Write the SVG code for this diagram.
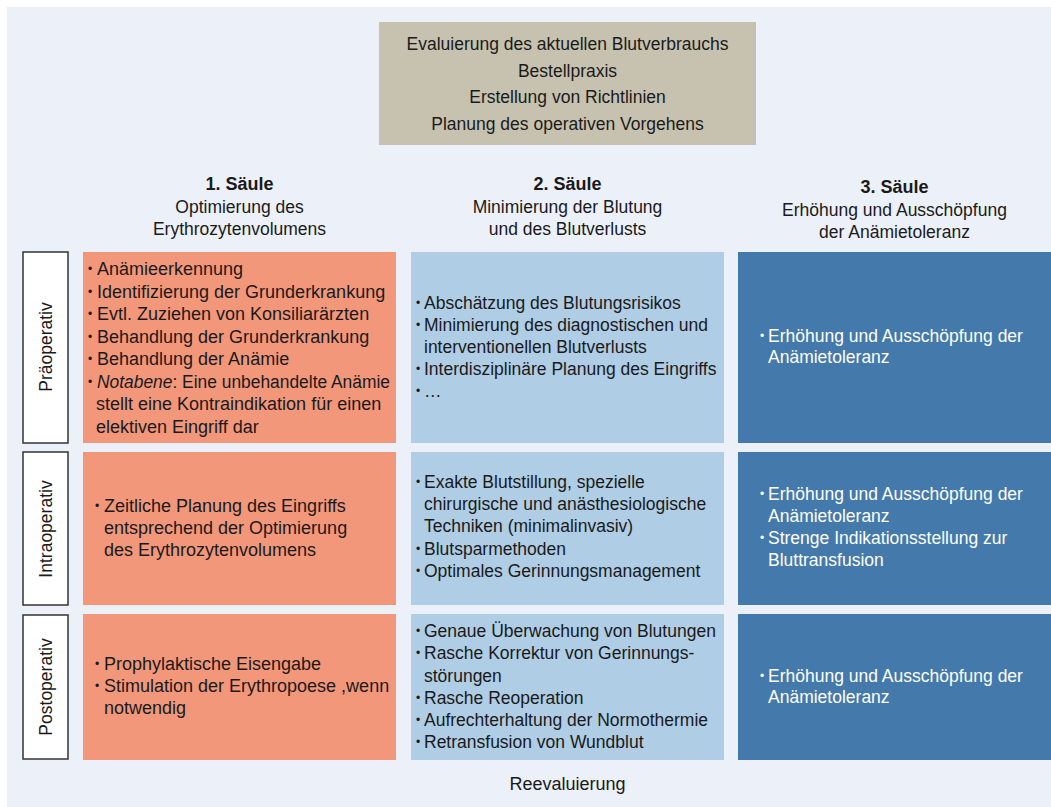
<svg xmlns="http://www.w3.org/2000/svg" width="1051" height="807" viewBox="0 0 1051 807">
<style>
text{font-family:"Liberation Sans",Arial,sans-serif;fill:#1a1a1a}
.t{font-size:17.5px}
.c1{font-size:18px}
.h{font-size:18px;font-weight:bold;text-anchor:middle}
.hs{font-size:17.5px;text-anchor:middle}
.m{text-anchor:middle}
.b{font-size:12px}
.w{fill:#ffffff}
.lab{fill:#ffffff;stroke:#333333;stroke-width:1.5}
.or{fill:#F3977B}
.lb{fill:#AFCDE5}
.db{fill:#4479AC}
.lt{font-size:17.5px;text-anchor:middle}
</style>
<rect x="0" y="0" width="1051" height="807" fill="#ffffff"/>
<rect x="7" y="7" width="1044" height="800" fill="#ECF0F8"/>

<g id="top">
<rect x="379" y="22" width="377" height="123" fill="#C7C2B0"/>
<text class="t m" x="567.5" y="50">Evaluierung des aktuellen Blutverbrauchs</text>
<text class="t m" x="567.5" y="77">Bestellpraxis</text>
<text class="t m" x="567.5" y="103">Erstellung von Richtlinien</text>
<text class="t m" x="567.5" y="130">Planung des operativen Vorgehens</text>
</g>

<g id="header1">
<text class="h" x="239.5" y="190">1. Säule</text>
<text class="hs" x="239.5" y="213">Optimierung des</text>
<text class="hs" x="239.5" y="235">Erythrozytenvolumens</text>
</g>
<g id="header2">
<text class="h" x="567.5" y="190">2. Säule</text>
<text class="hs" x="567.5" y="213">Minimierung der Blutung</text>
<text class="hs" x="567.5" y="235">und des Blutverlusts</text>
</g>
<g id="header3">
<text class="h" x="894.5" y="193">3. Säule</text>
<text class="hs" x="894.5" y="216">Erhöhung und Ausschöpfung</text>
<text class="hs" x="894.5" y="238">der Anämietoleranz</text>
</g>

<g id="label-prae">
<rect class="lab" x="23" y="252" width="45" height="191"/>
<text class="lt" transform="translate(52,347) rotate(-90)">Präoperativ</text>
</g>
<g id="label-intra">
<rect class="lab" x="23" y="452" width="45" height="153"/>
<text class="lt" transform="translate(52,529) rotate(-90)">Intraoperativ</text>
</g>
<g id="label-post">
<rect class="lab" x="23" y="615" width="45" height="144"/>
<text class="lt" transform="translate(52,687) rotate(-90)">Postoperativ</text>
</g>

<g id="r1c1">
<rect class="or" x="83" y="252" width="313" height="191"/>
<text class="b" x="88" y="273">•</text><text class="c1" x="97" y="275">Anämieerkennung</text>
<text class="b" x="88" y="295.5">•</text><text class="c1" x="97" y="297.5">Identifizierung der Grunderkrankung</text>
<text class="b" x="88" y="318">•</text><text class="c1" x="97" y="320">Evtl. Zuziehen von Konsiliarärzten</text>
<text class="b" x="88" y="340.5">•</text><text class="c1" x="97" y="342.5">Behandlung der Grunderkrankung</text>
<text class="b" x="88" y="363">•</text><text class="c1" x="97" y="365">Behandlung der Anämie</text>
<text class="b" x="88" y="385.5">•</text><text class="c1" x="97" y="387.5" textLength="293" lengthAdjust="spacingAndGlyphs"><tspan font-style="italic">Notabene</tspan>: Eine unbehandelte Anämie</text>
<text class="c1" x="96" y="410">stellt eine Kontraindikation für einen</text>
<text class="c1" x="96" y="432.5">elektiven Eingriff dar</text>
</g>
<g id="r1c2">
<rect class="lb" x="411" y="252" width="313" height="191"/>
<text class="b" x="416" y="307">•</text><text class="t" x="424" y="309">Abschätzung des Blutungsrisikos</text>
<text class="b" x="416" y="329">•</text><text class="t" x="424" y="331">Minimierung des diagnostischen und</text>
<text class="t" x="424" y="353">interventionellen Blutverlusts</text>
<text class="b" x="416" y="373">•</text><text class="t" x="424" y="375">Interdisziplinäre Planung des Eingriffs</text>
<text class="b" x="416" y="395">•</text><text class="t" x="424" y="397">…</text>
</g>
<g id="r1c3">
<rect class="db" x="738" y="252" width="313" height="191"/>
<text class="b w" x="760" y="340">•</text><text class="t w" x="768" y="342">Erhöhung und Ausschöpfung der</text>
<text class="t w" x="768" y="363">Anämietoleranz</text>
</g>

<g id="r2c1">
<rect class="or" x="83" y="452" width="313" height="153"/>
<text class="b" x="95" y="510">•</text><text class="c1" x="104" y="512">Zeitliche Planung des Eingriffs</text>
<text class="c1" x="104" y="534">entsprechend der Optimierung</text>
<text class="c1" x="104" y="556">des Erythrozytenvolumens</text>
</g>
<g id="r2c2">
<rect class="lb" x="411" y="452" width="313" height="153"/>
<text class="b" x="416" y="486">•</text><text class="t" x="424" y="488">Exakte Blutstillung, spezielle</text>
<text class="t" x="424" y="510">chirurgische und anästhesiologische</text>
<text class="t" x="424" y="532">Techniken (minimalinvasiv)</text>
<text class="b" x="416" y="553">•</text><text class="t" x="424" y="555">Blutsparmethoden</text>
<text class="b" x="416" y="575">•</text><text class="t" x="424" y="577">Optimales Gerinnungsmanagement</text>
</g>
<g id="r2c3">
<rect class="db" x="738" y="452" width="313" height="153"/>
<text class="b w" x="760" y="498">•</text><text class="t w" x="768" y="500">Erhöhung und Ausschöpfung der</text>
<text class="t w" x="768" y="522">Anämietoleranz</text>
<text class="b w" x="760" y="542">•</text><text class="t w" x="768" y="544">Strenge Indikationsstellung zur</text>
<text class="t w" x="768" y="566">Bluttransfusion</text>
</g>

<g id="r3c1">
<rect class="or" x="83" y="614" width="313" height="146"/>
<text class="b" x="95" y="668">•</text><text class="c1" x="104" y="670">Prophylaktische Eisengabe</text>
<text class="b" x="95" y="690">•</text><text class="c1" x="104" y="692">Stimulation der Erythropoese ,wenn</text>
<text class="c1" x="104" y="714">notwendig</text>
</g>
<g id="r3c2">
<rect class="lb" x="411" y="614" width="313" height="146"/>
<text class="b" x="416" y="635">•</text><text class="t" x="424" y="637">Genaue Überwachung von Blutungen</text>
<text class="b" x="416" y="657">•</text><text class="t" x="424" y="659">Rasche Korrektur von Gerinnungs-</text>
<text class="t" x="424" y="681.5">störungen</text>
<text class="b" x="416" y="702">•</text><text class="t" x="424" y="704">Rasche Reoperation</text>
<text class="b" x="416" y="724">•</text><text class="t" x="424" y="726">Aufrechterhaltung der Normothermie</text>
<text class="b" x="416" y="746">•</text><text class="t" x="424" y="748">Retransfusion von Wundblut</text>
</g>
<g id="r3c3">
<rect class="db" x="738" y="614" width="313" height="146"/>
<text class="b w" x="760" y="680">•</text><text class="t w" x="768" y="682">Erhöhung und Ausschöpfung der</text>
<text class="t w" x="768" y="703">Anämietoleranz</text>
</g>

<g id="reeval">
<text class="c1 m" x="567.5" y="790">Reevaluierung</text>
</g>
<g id="connectors"></g>
</svg>
